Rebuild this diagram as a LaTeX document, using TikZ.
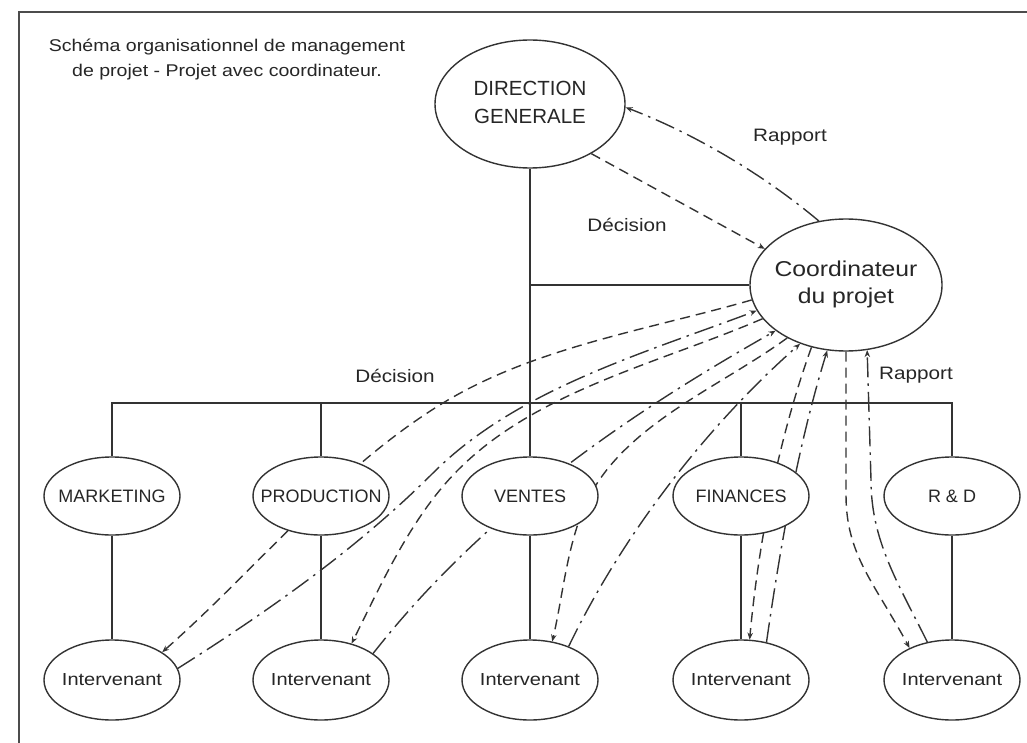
\documentclass[tikz,border=0pt]{standalone}
\usepackage{fontspec}
\setmainfont{Liberation Sans}
\newfontfamily\widesans[FakeStretch=1.15]{Liberation Sans}
\usetikzlibrary{shapes.geometric,arrows.meta}
\pgfdeclarelayer{back}
\pgfsetlayers{back,main}

\begin{document}
\begin{tikzpicture}[x=1pt,y=1pt,
  oval/.style={ellipse, draw=black!80, line width=1.4pt, fill=white, inner sep=0pt, text=black!85},
  unit/.style={oval, minimum width=136pt, minimum height=78pt, font=\fontsize{18}{22}\selectfont},
  actor/.style={oval, minimum width=136pt, minimum height=80pt, font=\widesans\fontsize{17.4}{21}\selectfont},
  tree/.style={draw=black!80, line width=1.5pt},
  tip/.style={-{Stealth[length=7pt,width=5.5pt]}},
  declink/.style={draw=black!80, line width=1.4pt, dash pattern=on 10pt off 6pt, tip},
  raplink/.style={draw=black!80, line width=1.4pt, dash pattern=on 20pt off 6pt on 2.5pt off 6pt, tip},
  tag/.style={font=\widesans\fontsize{18}{22}\selectfont, text=black!85, inner sep=0pt},
]
\useasboundingbox (0,0) rectangle (1027,-743);

% open frame (left and top edges)
\draw[black!70, line width=1.6pt] (19,-743) -- (19,-12) -- (1027,-12);

% title
\node[font=\widesans\fontsize{17}{25}\selectfont, text=black!85, align=center] (title) at (227,-60)
  {Schéma organisationnel de management\\de projet - Projet avec coordinateur.};

% management
\node[oval, minimum width=190pt, minimum height=128pt, font=\fontsize{20.5}{28}\selectfont] (dg) at (530,-104)
  {\makebox[0pt]{\begin{tabular}{@{}c@{}}DIRECTION\\GENERALE\end{tabular}}};
\node[oval, minimum width=192pt, minimum height=132pt, font=\widesans\fontsize{21.5}{27}\selectfont] (coord) at (846,-285)
  {\makebox[0pt]{\begin{tabular}{@{}c@{}}Coordinateur\\du projet\end{tabular}}};

% departments
\node[unit] (mkt)  at (112,-496) {\makebox[0pt]{MARKETING}};
\node[unit] (prod) at (321,-496) {\makebox[0pt]{PRODUCTION}};
\node[unit] (vent) at (530,-496) {\makebox[0pt]{VENTES}};
\node[unit] (fin)  at (741,-496) {\makebox[0pt]{FINANCES}};
\node[unit] (rd)   at (952,-496) {\makebox[0pt]{R \& D}};

% project members
\foreach \n/\x in {i1/112, i2/321, i3/530, i4/741, i5/952}
  \node[actor] (\n) at (\x,-680) {\makebox[0pt]{Intervenant}};

% flow labels
\node[tag] (decA) at (627,-225) {Décision};
\node[tag] (rapA) at (790,-137) {Rapport};
\node[tag] (decB) at (395,-376) {Décision};
\node[tag] (rapB) at (916,-375) {Rapport};

\begin{pgfonlayer}{back}
  % hierarchy
  \coordinate (bus) at (0,-403);
  \draw[tree] (dg.south) -- (vent.north);
  \draw[tree] (coord.west) -- (coord.west -| dg.south);
  \draw[tree] (mkt.north) -- (mkt.north |- bus) -- (rd.north |- bus) -- (rd.north);
  \draw[tree] (prod.north) -- (prod.north |- bus);
  \draw[tree] (fin.north) -- (fin.north |- bus);
  \foreach \a/\b in {mkt/i1, prod/i2, vent/i3, fin/i4, rd/i5}
    \draw[tree] (\a.south) -- (\b.north);

  % between management and coordinator
  \draw[declink] (dg.321) -- (coord.156);
  \draw[raplink] (coord.113) .. controls +(-56,47) and +(68,-26) .. (dg.358);

  % decisions from the coordinator
  \draw[declink] (coord.189) .. controls +(-104,-30) and +(92,56) .. (443,-403)
                 .. controls +(-105,-64) and +(93,82) .. (i1.29);
  \draw[declink] (coord.202) .. controls +(-102,-44) and +(79,78) .. (460,-468)
                 .. controls +(-48,-47) and +(30,60) .. (i2.50);
  \draw[declink] (coord.222) .. controls +(-63,-46) and +(42,66) .. (596,-485)
                 .. controls +(-28,-44) and +(12,51) .. (i3.60);
  \draw[declink] (coord.241) .. controls +(-33,-91) and +(9,97) .. (i4.78);
  \draw[declink] (coord.270) -- (846,-495) .. controls +(0,-60) and +(-35,65) .. (i5.143);

  % reports to the coordinator
  \draw[raplink] (i1.10) .. controls +(90,57) and +(-76,-76) .. (433,-473)
                 .. controls +(84,84) and +(-111,-42) .. (coord.196);
  \draw[raplink] (i2.27) .. controls +(110,140) and +(-150,-85) .. (coord.213);
  \draw[raplink] (i3.41) .. controls +(54,112) and +(-93,-82) .. (coord.232);
  \draw[raplink] (i4.56) .. controls +(14,97) and +(-29,-94) .. (coord.254);
  \draw[raplink] (i5.123) .. controls +(-30,60) and +(0,-60) .. (871,-480) -- (coord.288);
\end{pgfonlayer}
\end{tikzpicture}
\end{document}
